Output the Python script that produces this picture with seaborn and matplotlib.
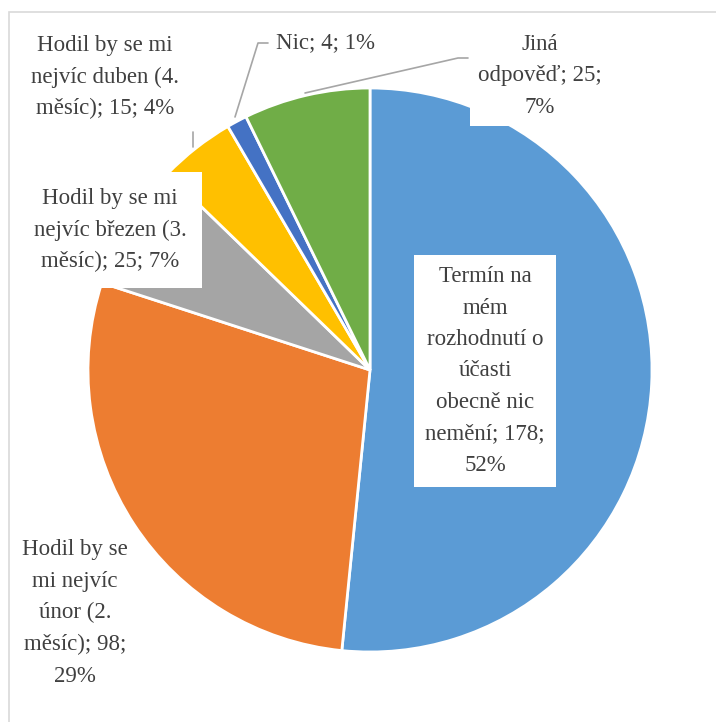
import matplotlib.pyplot as plt
from matplotlib.patches import Rectangle
from matplotlib.lines import Line2D
import seaborn as sns

sns.set_style("white")
plt.rcParams['font.family'] = ['Liberation Serif', 'DejaVu Serif']

# data
categories = ["Termín na mém rozhodnutí o účasti obecně nic nemění",
              "Hodil by se mi nejvíc únor (2. měsíc)",
              "Hodil by se mi nejvíc březen (3. měsíc)",
              "Hodil by se mi nejvíc duben (4. měsíc)",
              "Nic",
              "Jiná odpověď"]
counts = [178, 98, 25, 15, 4, 25]
labels = ["Termín na\nmém\nrozhodnutí o\núčasti\nobecně nic\nnemění; 178;\n52%",
          "Hodil by se\nmi nejvíc\núnor (2.\nměsíc); 98;\n29%",
          "Hodil by se mi\nnejvíc březen (3.\nměsíc); 25; 7%",
          "Hodil by se mi\nnejvíc duben (4.\nměsíc); 15; 4%",
          "Nic; 4; 1%",
          "Jiná\nodpověď; 25;\n7%"]
colors = ["#5B9BD5", "#ED7D31", "#A5A5A5", "#FFC000", "#4472C4", "#70AD47"]

W, H = 716, 722
fig = plt.figure(figsize=(W / 100, H / 100), dpi=100)

def fx(x):
    return x / W

def fy(y):
    return 1 - y / H

# chart frame
fig.add_artist(Rectangle((fx(9), fy(740)), fx(720), 728 / H, transform=fig.transFigure,
                         fill=False, edgecolor="#D9D9D9", linewidth=1.2))

ax = fig.add_axes([88 / W, 70 / H, 564 / W, 564 / H])
ax.pie(counts, colors=sns.color_palette(colors), startangle=90, counterclock=False,
       wedgeprops=dict(edgecolor="white", linewidth=2))
ax.set_xlim(-1, 1)
ax.set_ylim(-1, 1)
ax.set_aspect("equal")
ax.axis("off")

# leader lines
for xs, ys in [([235, 258, 268], [117, 43, 43]),
               ([305, 458, 468], [93, 58, 58]),
               ([193, 193], [132, 147])]:
    fig.add_artist(Line2D([fx(v) for v in xs], [fy(v) for v in ys],
                          transform=fig.transFigure, color="#A6A6A6", linewidth=1.2))

# label positions (pixels) and white boxes
label_pos = [(485, 371), (75, 613), (110, 230), (105, 77), (325, 43), (540, 76)]
box_pad = [8, 3, 11, 3, 3, 6]
for lab, (x, y), pad in zip(labels, label_pos, box_pad):
    fig.text(fx(x), fy(y), lab, ha="center", va="center", fontsize=16.5,
             color="#404040", linespacing=1.65,
             bbox=dict(facecolor="white", edgecolor="none", pad=pad))

fig.savefig("out.png", dpi=100)
